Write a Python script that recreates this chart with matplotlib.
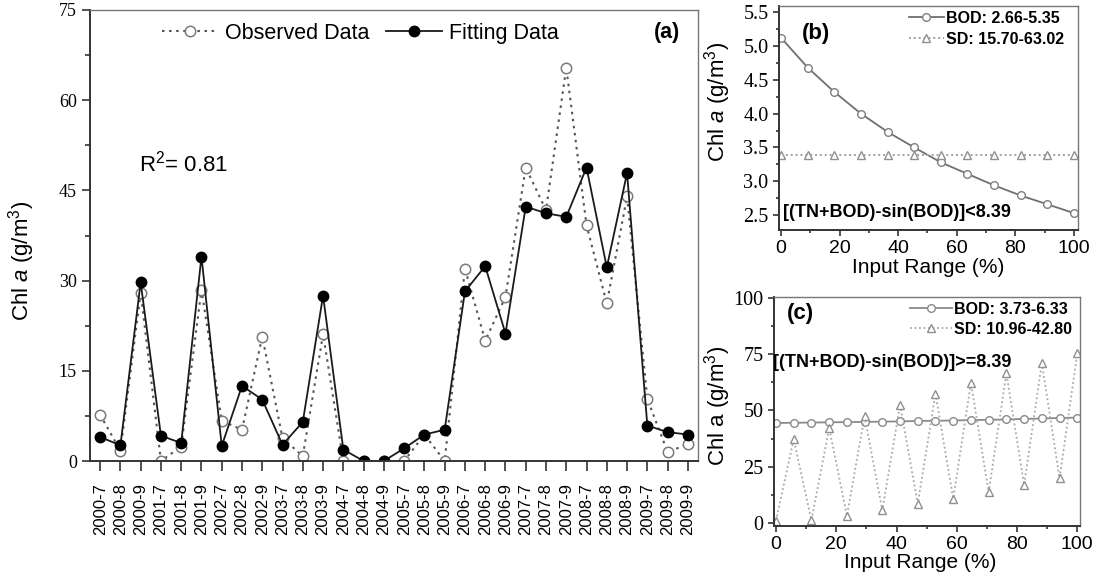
import matplotlib
matplotlib.use("Agg")
import matplotlib.pyplot as plt
from matplotlib.ticker import MultipleLocator

# ---------------- data ----------------
months = ["2000-7", "2000-8", "2000-9", "2001-7", "2001-8", "2001-9",
          "2002-7", "2002-8", "2002-9", "2003-7", "2003-8", "2003-9",
          "2004-7", "2004-8", "2004-9", "2005-7", "2005-8", "2005-9",
          "2006-7", "2006-8", "2006-9", "2007-7", "2007-8", "2007-9",
          "2008-7", "2008-8", "2008-9", "2009-7", "2009-8", "2009-9"]
observed = [7.7, 1.7, 28.0, 0.0, 2.4, 28.5, 6.7, 5.2, 20.7, 3.8, 0.8, 21.1,
            0.0, 0.0, 0.0, 0.0, 4.4, 0.0, 32.0, 20.0, 27.3, 48.8, 41.7, 65.4,
            39.2, 26.2, 44.0, 10.3, 1.5, 2.8]
fitted = [4.0, 2.6, 29.7, 4.2, 3.0, 34.0, 2.5, 12.5, 10.2, 2.7, 6.5, 27.5,
          1.9, 0.0, 0.0, 2.1, 4.4, 5.2, 28.2, 32.4, 21.2, 42.3, 41.2, 40.6,
          48.8, 32.2, 47.9, 5.9, 4.8, 4.4]

b_x = [0, 9.09, 18.18, 27.27, 36.36, 45.45, 54.55, 63.64, 72.73, 81.82, 90.91, 100]
b_bod = [5.12, 4.68, 4.32, 4.00, 3.73, 3.50, 3.28, 3.11, 2.94, 2.79, 2.66, 2.53]
b_sd = [3.39, 3.39, 3.39, 3.39, 3.39, 3.39, 3.39, 3.39, 3.39, 3.39, 3.39, 3.39]

c_x = [0, 5.88, 11.76, 17.65, 23.53, 29.41, 35.29, 41.18, 47.06, 52.94,
       58.82, 64.71, 70.59, 76.47, 82.35, 88.24, 94.12, 100]
c_bod = [44.4, 44.5, 44.6, 44.7, 44.8, 44.9, 45.0, 45.1, 45.3, 45.4,
         45.5, 45.7, 45.8, 46.0, 46.2, 46.4, 46.6, 46.8]
c_sd = [1.0, 37.2, 1.2, 42.2, 3.2, 47.4, 5.6, 52.5, 8.5, 57.4,
        10.9, 62.2, 13.7, 66.5, 16.9, 71.0, 19.9, 75.3]

SANS = "Liberation Sans"
SERIF = "Liberation Serif"
plt.rcParams["font.family"] = SANS
plt.rcParams["mathtext.fontset"] = "custom"
plt.rcParams["mathtext.rm"] = SANS
plt.rcParams["mathtext.it"] = SANS + ":italic"
plt.rcParams["mathtext.bf"] = SANS + ":bold"

W, H = 1101, 579
fig = plt.figure(figsize=(W / 100, H / 100), dpi=100)


def rect(l, r, t, b):
    return [l / W, (H - b) / H, (r - l) / W, (b - t) / H]


def style_spines(ax):
    for s in ("left", "bottom"):
        ax.spines[s].set_color("#333333")
        ax.spines[s].set_linewidth(1.4)
    for s in ("top", "right"):
        ax.spines[s].set_color("#777777")
        ax.spines[s].set_linewidth(1.0)
    ax.tick_params(which="both", direction="out", top=False, right=False,
                   color="#333333", width=1.2)
    ax.tick_params(which="major", length=6)
    ax.tick_params(which="minor", length=3.5)


# ---------------- panel (a) ----------------
axA = fig.add_axes(rect(90, 698, 10, 461))
xs = list(range(len(months)))
axA.plot(xs, observed, linestyle=(0, (1.2, 2.2)), color="#555555", lw=1.5,
         marker="o", markersize=7.5, markerfacecolor="white",
         markeredgecolor="#7a7a7a", markeredgewidth=1.1, label="Observed Data")
axA.plot(xs, fitted, linestyle="-", color="#1a1a1a", lw=1.3,
         marker="o", markersize=7.5, markerfacecolor="black",
         markeredgecolor="black", label="Fitting Data")
axA.set_xlim(-0.5, len(months) - 0.5)
axA.set_ylim(0, 75)
axA.set_xticks(xs)
axA.set_xticklabels(months, rotation=90, fontsize=12, family=SANS)
axA.yaxis.set_major_locator(MultipleLocator(15))
axA.yaxis.set_minor_locator(MultipleLocator(7.5))
style_spines(axA)
axA.tick_params(axis="x", length=7, pad=9)
for lab in axA.get_yticklabels():
    lab.set_family(SERIF)
    lab.set_fontsize(13)
axA.set_ylabel(r"Chl $\mathit{a}$ (g/m$^3$)", fontsize=16)
axA.yaxis.set_label_coords(-0.087, 0.443)
axA.legend(loc="center", bbox_to_anchor=(0.445, 0.949), ncol=2,
           frameon=False, fontsize=15.5, handlelength=2.6,
           handletextpad=0.3, columnspacing=0.8, borderpad=0,
           borderaxespad=0)
axA.text(0.081, 0.66, r"R$^2$= 0.81", transform=axA.transAxes,
         fontsize=16, va="center", ha="left")
axA.text(0.970, 0.951, "(a)", transform=axA.transAxes, fontsize=15.5,
         fontweight="bold", ha="right", va="center")

# ---------------- panel (b) ----------------
axB = fig.add_axes(rect(779, 1078, 6, 230))
axB.plot(b_x, b_bod, linestyle="-", color="#707070", lw=1.3, marker="o",
         markersize=5.5, markerfacecolor="white", markeredgecolor="#808080",
         markeredgewidth=1.0, label="BOD: 2.66-5.35")
axB.plot(b_x, b_sd, linestyle=(0, (1, 1.5)), color="#a0a0a0", lw=1.4,
         marker="^", markersize=5.5, markerfacecolor="white",
         markeredgecolor="#909090", markeredgewidth=1.0,
         label="SD: 15.70-63.02")
axB.set_xlim(-0.7, 101.4)
axB.set_ylim(2.28, 5.59)
axB.xaxis.set_major_locator(MultipleLocator(20))
axB.xaxis.set_minor_locator(MultipleLocator(10))
axB.yaxis.set_major_locator(MultipleLocator(0.5))
axB.yaxis.set_minor_locator(MultipleLocator(0.25))
axB.yaxis.set_major_formatter(matplotlib.ticker.FormatStrFormatter("%.1f"))
style_spines(axB)
axB.tick_params(which="major", length=4)
axB.tick_params(which="minor", length=2.5)
axB.tick_params(axis="x", labelsize=14, pad=3)
for lab in axB.get_yticklabels():
    lab.set_family(SERIF)
    lab.set_fontsize(14.5)
axB.set_ylabel(r"Chl $\mathit{a}$ (g/m$^3$)", fontsize=16)
axB.yaxis.set_label_coords(-0.154, 0.57)
axB.set_xlabel("Input Range (%)", fontsize=15)
axB.xaxis.set_label_coords(0.498, -0.125)
axB.legend(loc="upper right", bbox_to_anchor=(0.955, 0.978), frameon=False,
           prop={"family": SANS, "weight": "bold", "size": 11.5},
           handlelength=2.2, handletextpad=0.15, labelspacing=0.35,
           borderpad=0, borderaxespad=0)
axB.text(0.077, 0.879, "(b)", transform=axB.transAxes, fontsize=16,
         fontweight="bold", ha="left", va="center")
axB.text(0.012, 0.076, "[(TN+BOD)-sin(BOD)]<8.39", transform=axB.transAxes,
         fontsize=13, fontweight="bold", ha="left", va="center")

# ---------------- panel (c) ----------------
axC = fig.add_axes(rect(774, 1080, 297, 526))
axC.plot(c_x, c_bod, linestyle="-", color="#8a8a8a", lw=1.3, marker="o",
         markersize=5.5, markerfacecolor="white", markeredgecolor="#8a8a8a",
         markeredgewidth=1.0, label="BOD: 3.73-6.33")
axC.plot(c_x, c_sd, linestyle=(0, (1, 1.5)), color="#a8a8a8", lw=1.3,
         marker="^", markersize=6, markerfacecolor="white",
         markeredgecolor="#909090", markeredgewidth=1.0,
         label="SD: 10.96-42.80")
axC.set_xlim(-0.66, 100.9)
axC.set_ylim(-1.3, 100.3)
axC.xaxis.set_major_locator(MultipleLocator(20))
axC.xaxis.set_minor_locator(MultipleLocator(10))
axC.yaxis.set_major_locator(MultipleLocator(25))
axC.yaxis.set_minor_locator(MultipleLocator(12.5))
style_spines(axC)
axC.tick_params(which="major", length=4)
axC.tick_params(which="minor", length=2.5)
axC.tick_params(axis="x", labelsize=14, pad=3)
for lab in axC.get_yticklabels():
    lab.set_family(SERIF)
    lab.set_fontsize(14.5)
axC.set_ylabel("Chl a (g/m$^3$)", fontsize=16)
axC.yaxis.set_label_coords(-0.134, 0.525)
axC.set_xlabel("Input Range (%)", fontsize=15)
axC.xaxis.set_label_coords(0.477, -0.118)
axC.legend(loc="upper right", bbox_to_anchor=(0.975, 0.978), frameon=False,
           prop={"family": SANS, "weight": "bold", "size": 11.5},
           handlelength=2.6, handletextpad=0.15, labelspacing=0.3,
           borderpad=0, borderaxespad=0)
axC.text(0.042, 0.930, "(c)", transform=axC.transAxes, fontsize=16,
         fontweight="bold", ha="left", va="center")
axC.text(-0.003, 0.716, "[(TN+BOD)-sin(BOD)]>=8.39", transform=axC.transAxes,
         fontsize=13, fontweight="bold", ha="left", va="center")

fig.savefig("out.png", dpi=100)
